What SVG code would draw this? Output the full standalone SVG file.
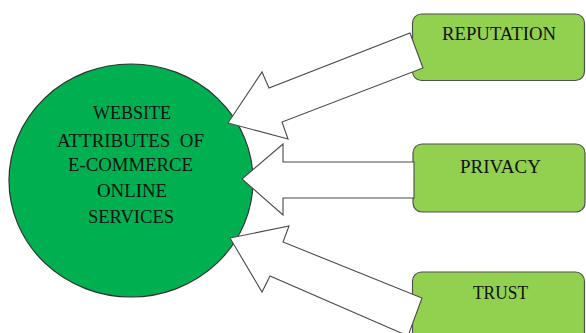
<svg xmlns="http://www.w3.org/2000/svg" width="586" height="333" viewBox="0 0 586 333">
<style>
.box{fill:#92D050;stroke:#505050;stroke-width:1.2}
.arrow{fill:#FFFFFF;stroke:#4a4a4a;stroke-width:1.1;stroke-linejoin:miter}
.t{font-family:"Liberation Serif","Times New Roman",serif;font-size:19.5px;fill:#111}
</style>
<rect width="586" height="333" fill="#FFFFFF"/>
<g id="center">
<ellipse cx="131" cy="180.5" rx="122" ry="116.5" fill="#00B050" stroke="#303030" stroke-width="1.2"/>
<text class="t" x="93" y="119" textLength="78" lengthAdjust="spacingAndGlyphs">WEBSITE</text>
<text class="t" x="57" y="146.5" textLength="147" lengthAdjust="spacingAndGlyphs" xml:space="preserve">ATTRIBUTES  OF</text>
<text class="t" x="68" y="170.5" textLength="125" lengthAdjust="spacingAndGlyphs">E-COMMERCE</text>
<text class="t" x="97" y="196.5" textLength="70" lengthAdjust="spacingAndGlyphs">ONLINE</text>
<text class="t" x="88" y="223" textLength="86" lengthAdjust="spacingAndGlyphs">SERVICES</text>
</g>
<g id="reputation">
<rect class="box" x="412.5" y="14" width="172" height="66.5" rx="9"/>
<text class="t" x="442" y="40" textLength="114" lengthAdjust="spacingAndGlyphs">REPUTATION</text>
</g>
<g id="privacy">
<rect class="box" x="413" y="144" width="172" height="68" rx="9"/>
<text class="t" x="460" y="172.5" textLength="81" lengthAdjust="spacingAndGlyphs">PRIVACY</text>
</g>
<g id="trust">
<rect class="box" x="412.5" y="272" width="172" height="80" rx="9"/>
<text class="t" x="473" y="299" textLength="55" lengthAdjust="spacingAndGlyphs">TRUST</text>
</g>
<g id="connectors">
<polygon class="arrow" points="228,123 262,72 269,88 410,33 423,68 282,122 288,139"/>
<polygon class="arrow" points="242,179 283,144 283,162 414,162 414,198 283,198 283,215"/>
<polygon class="arrow" points="230,238 289,226 283,242 422,298 408,336 270,276 262,292"/>
</g>
</svg>
